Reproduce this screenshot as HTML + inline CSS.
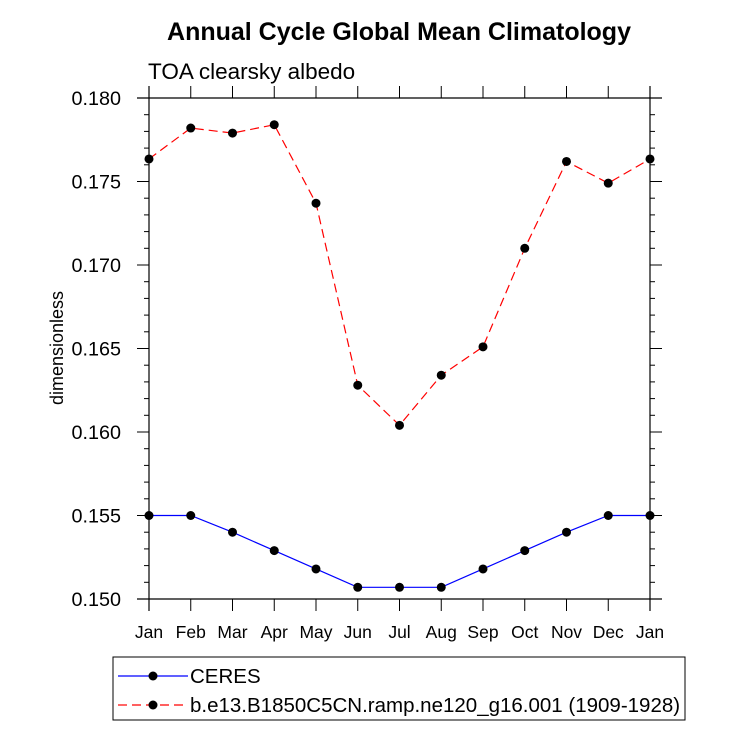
<!DOCTYPE html>
<html><head><meta charset="utf-8"><style>
body{margin:0;background:#fff;}
svg text{font-family:"Liberation Sans",sans-serif;}
</style></head><body>
<svg id="chart" width="733" height="730" xmlns="http://www.w3.org/2000/svg">
<text x="399" y="40" text-anchor="middle" font-size="25" font-weight="bold">Annual Cycle Global Mean Climatology</text>
<text x="148" y="79" font-size="22.5">TOA clearsky albedo</text>
<text transform="translate(63,348) rotate(-90)" text-anchor="middle" font-size="18">dimensionless</text>
<g id="axes"></g><g id="series"></g>
<rect x="113" y="657" width="572" height="63" fill="none" stroke="#000" stroke-width="1"/>
<g>
<line x1="118" y1="676" x2="188" y2="676" stroke="#00f" stroke-width="1.2"/><circle cx="153" cy="676" r="4.5"/>
<text x="190" y="683" font-size="20.5">CERES</text></g>
<g>
<line x1="118" y1="705" x2="188" y2="705" stroke="#f00" stroke-width="1.2" stroke-dasharray="9,5"/><circle cx="153" cy="705" r="4.5"/>
<text x="190" y="712" font-size="20.5">b.e13.B1850C5CN.ramp.ne120_g16.001 (1909-1928)</text></g>
</svg>
<script>
const months=["Jan","Feb","Mar","Apr","May","Jun","Jul","Aug","Sep","Oct","Nov","Dec","Jan"];
const ceres=[0.1550,0.1550,0.1540,0.1529,0.1518,0.1507,0.1507,0.1507,0.1518,0.1529,0.1540,0.1550,0.1550];
const model=[0.17635,0.1782,0.1779,0.1784,0.1737,0.1628,0.1604,0.1634,0.1651,0.1710,0.1762,0.1749,0.17635];
const yTicks=["0.150","0.155","0.160","0.165","0.170","0.175","0.180"];
const NS="http://www.w3.org/2000/svg";
const L=149,R=650,T=98,B=599,ymin=0.150,ymax=0.180;
const xs=i=>L+(R-L)*i/(months.length-1);
const ys=v=>B-(v-ymin)/(ymax-ymin)*(B-T);
function mk(tag,attrs,parent){const e=document.createElementNS(NS,tag);for(const k in attrs)e.setAttribute(k,attrs[k]);parent.appendChild(e);return e;}
const ax=document.getElementById('axes');
[[L-12,T,R+12,T],[L-12,B,R+12,B],[L,T-12,L,B+12],[R,T-12,R,B+12]].forEach(a=>{
const l=mk('line',{x1:a[0],y1:a[1],x2:a[2],y2:a[3],stroke:'#000','stroke-width':1.2},ax);

});
months.forEach((m,i)=>{const x=xs(i);
mk('line',{x1:x,y1:B,x2:x,y2:B+12,stroke:'#000'},ax);
mk('line',{x1:x,y1:T,x2:x,y2:T-12,stroke:'#000'},ax);
const t=mk('text',{x:x,y:B+39,'text-anchor':'middle','font-size':17.5},ax);t.textContent=m;

});
yTicks.forEach((s,i)=>{const y=ys(parseFloat(s));
mk('line',{x1:L,y1:y,x2:L-12,y2:y,stroke:'#000'},ax);
mk('line',{x1:R,y1:y,x2:R+12,y2:y,stroke:'#000'},ax);
const t=mk('text',{x:L-28,y:y+7,'text-anchor':'end','font-size':19.8},ax);t.textContent=s;


if(i<yTicks.length-1){for(let k=1;k<5;k++){const yy=ys(parseFloat(s)+0.001*k);
mk('line',{x1:L,y1:yy,x2:L-5,y2:yy,stroke:'#000'},ax);
mk('line',{x1:R,y1:yy,x2:R+5,y2:yy,stroke:'#000'},ax);}}});
const sg=document.getElementById('series');
function series(vals,color,dash,name){
const pl=mk('polyline',{points:vals.map((v,i)=>xs(i)+','+ys(v)).join(' '),fill:'none',stroke:color,'stroke-width':1.2,'stroke-dasharray':dash},sg);


vals.forEach((v,i)=>{const c=mk('circle',{cx:xs(i),cy:ys(v),r:4.5,fill:'#000'},sg);

});}
series(ceres,'#00f','none','ceres');
series(model,'#f00','9,5','model');
</script>
</body></html>
